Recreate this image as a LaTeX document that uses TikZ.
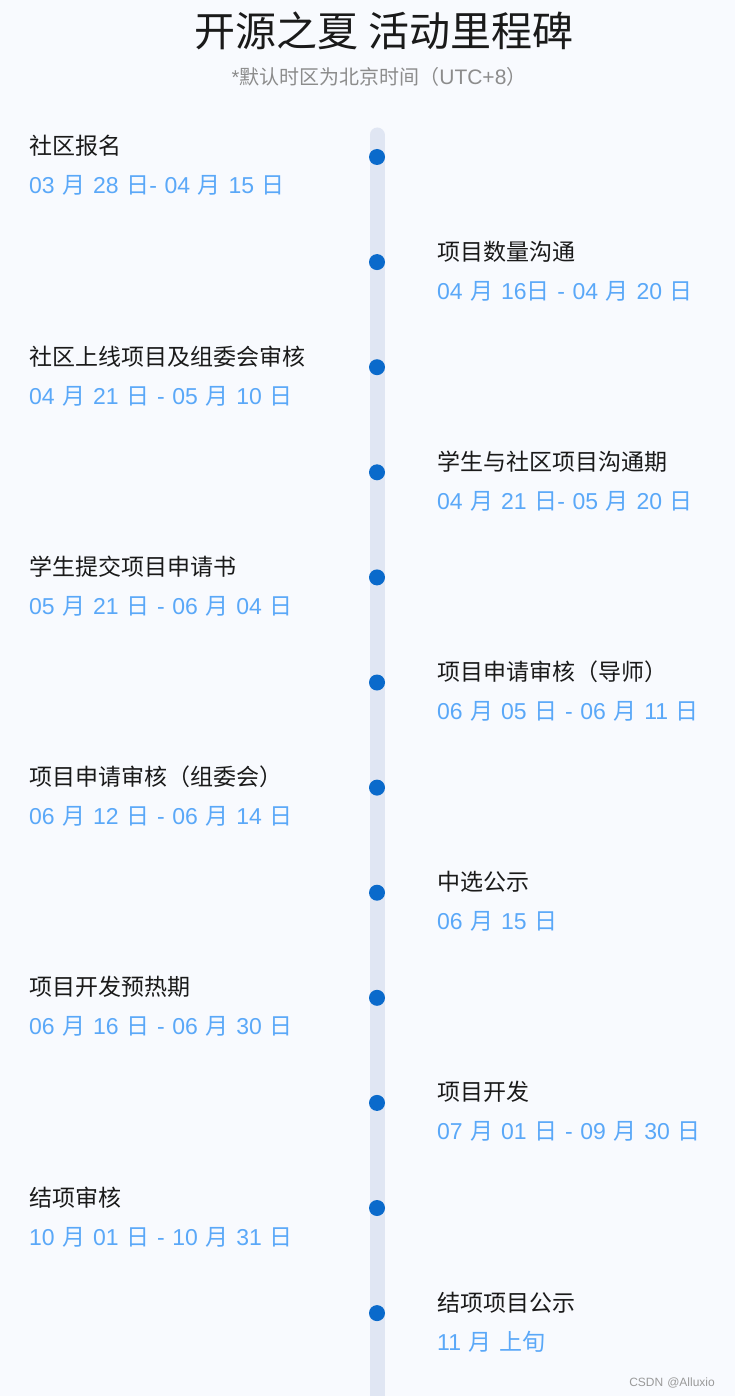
\documentclass[tikz,border=0pt]{standalone}
\usepackage{fontspec}
\setmainfont{Noto Sans CJK SC}
\newfontfamily\wmfont{Liberation Sans}
\newfontfamily\datefont[WordSpace=1.2]{Liberation Sans}
\newcommand\A[1]{{\datefont #1}}
\definecolor{bgc}{HTML}{F8FAFE}
\definecolor{barc}{HTML}{E0E6F3}
\definecolor{dotc}{HTML}{0A6ACB}
\definecolor{datec}{HTML}{5AA8F8}
\definecolor{titlec}{HTML}{1A1A1A}
\definecolor{subc}{HTML}{8C8C8C}
\definecolor{wmc}{HTML}{9A9A9A}
\tikzset{
  dotnode/.style={circle,fill=dotc,minimum size=16pt,inner sep=0pt},
  ttl/.style={anchor=base west,inner sep=0pt,text=titlec,font=\fontsize{23}{23}\selectfont},
  dat/.style={anchor=base west,inner sep=0pt,text=datec,font=\fontsize{23}{23}\selectfont},
}
\begin{document}
\begin{tikzpicture}[x=1pt,y=-1pt]
\fill[bgc] (0,0) rectangle (735,1396);
\useasboundingbox (0,0) rectangle (735,1396);
\node[anchor=base,inner sep=0pt,text=titlec,font=\fontsize{41}{41}\selectfont] (title) at (384,47) {开源之夏 活动里程碑};
\node[anchor=base,inner sep=0pt,text=subc,font=\fontsize{20}{20}\selectfont] (sub) at (379,85) {{\wmfont *}默认时区为北京时间（{\wmfont\fontsize{21}{21}\selectfont UTC+8}）};
\coordinate (bartop) at (377,135);
\coordinate (barbot) at (377,1410);
\draw[barc,line width=15pt,line cap=round] (bartop) -- (barbot);
\foreach \i/\t/\d in {
  0/社区报名/{\A{03 }月\A{ 28 }日\A{- 04 }月\A{ 15 }日},
  1/项目数量沟通/{\A{04 }月\A{ 16}日\A{ - 04 }月\A{ 20 }日},
  2/社区上线项目及组委会审核/{\A{04 }月\A{ 21 }日\A{ - 05 }月\A{ 10 }日},
  3/学生与社区项目沟通期/{\A{04 }月\A{ 21 }日\A{- 05 }月\A{ 20 }日},
  4/学生提交项目申请书/{\A{05 }月\A{ 21 }日\A{ - 06 }月\A{ 04 }日},
  5/项目申请审核（导师）/{\A{06 }月\A{ 05 }日\A{ - 06 }月\A{ 11 }日},
  6/项目申请审核（组委会）/{\A{06 }月\A{ 12 }日\A{ - 06 }月\A{ 14 }日},
  7/中选公示/{\A{06 }月\A{ 15 }日},
  8/项目开发预热期/{\A{06 }月\A{ 16 }日\A{ - 06 }月\A{ 30 }日},
  9/项目开发/{\A{07 }月\A{ 01 }日\A{ - 09 }月\A{ 30 }日},
  10/结项审核/{\A{10 }月\A{ 01 }日\A{ - 10 }月\A{ 31 }日},
  11/结项项目公示/{\A{11 }月\A{ }上旬}}{
  \pgfmathsetmacro{\yy}{157+105.1*\i}
  \pgfmathtruncatemacro{\odd}{mod(\i,2)}
  \ifnum\odd=0 \def\xx{29}\else\def\xx{437}\fi
  \node[dotnode] (p\i) at (377,\yy) {};
  \node[ttl] (t\i) at (\xx,\yy-2) {\t};
  \node[dat] (d\i) at (\xx,\yy+37) {\d};
}
\node[anchor=base east,inner sep=0pt,text=wmc,font=\wmfont\fontsize{12}{12}\selectfont] (wm) at (715,1386) {CSDN @Alluxio};
\end{tikzpicture}
\end{document}
